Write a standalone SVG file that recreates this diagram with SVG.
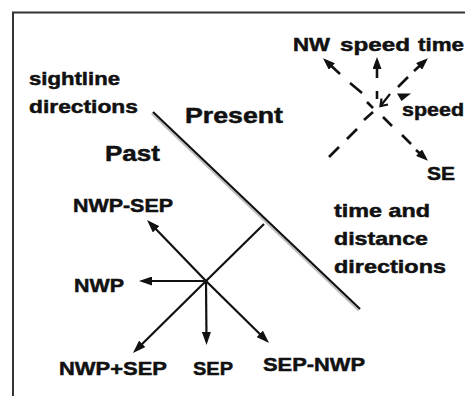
<svg xmlns="http://www.w3.org/2000/svg" width="465" height="396" viewBox="0 0 465 396">
<defs>
<style>
text{font-family:"Liberation Sans",Arial,sans-serif;font-weight:bold;fill:#111;font-size:19px;stroke:#111;stroke-width:0.5}
.big{font-size:22px}
.ln{stroke:#111;stroke-width:2.2;fill:none}
.ds{stroke:#111;stroke-width:2.6;fill:none}
</style>
<marker id="ah" viewBox="0 0 13 9" refX="9" refY="4.5" markerWidth="13" markerHeight="9" markerUnits="userSpaceOnUse" orient="auto"><path d="M0,0 L13,4.5 L0,9 Z" fill="#111"/></marker>
<marker id="ahs" viewBox="0 0 12 9" refX="8" refY="4.5" markerWidth="12" markerHeight="9" markerUnits="userSpaceOnUse" orient="auto"><path d="M0,0 L12,4.5 L0,9 Z" fill="#111"/></marker>
</defs>
<rect width="465" height="396" fill="#fff"/>
<rect x="13" y="12.5" width="520" height="420" fill="none" stroke="#333" stroke-width="2"/>

<g id="connectors">
<line x1="151.6" y1="113.6" x2="358.6" y2="310.6" stroke="#bbb" stroke-width="1.5"/>
<line class="ln" x1="153" y1="112" x2="360" y2="309" stroke-width="2.4"/>
<line class="ln" x1="264" y1="224" x2="206" y2="281"/>
<line class="ln" x1="206" y1="281" x2="135.8" y2="350.2" marker-end="url(#ah)"/>
<line class="ln" x1="206" y1="281" x2="149.8" y2="222.8" marker-end="url(#ah)"/>
<line class="ln" x1="206" y1="281" x2="266.2" y2="340.2" marker-end="url(#ah)"/>
<line class="ln" x1="204" y1="281" x2="143" y2="281" marker-end="url(#ah)"/>
<line class="ln" x1="206" y1="281" x2="206.5" y2="341" marker-end="url(#ah)"/>
<line class="ds" x1="340" y1="74" x2="326" y2="61" marker-end="url(#ahs)"/>
<line class="ds" x1="350" y1="83" x2="362" y2="93"/>
<line class="ds" x1="367" y1="102" x2="373" y2="108"/>
<line class="ds" x1="383" y1="117" x2="392" y2="126"/>
<line class="ds" x1="402" y1="135" x2="411" y2="144"/>
<line class="ds" x1="416" y1="150" x2="425" y2="158" marker-end="url(#ahs)"/>
<line class="ds" x1="329" y1="157" x2="339" y2="147"/>
<line class="ds" x1="347" y1="139" x2="357" y2="129"/>
<line class="ds" x1="364" y1="120" x2="373" y2="112"/>
<line class="ds" x1="398" y1="87" x2="408" y2="77"/>
<line class="ds" x1="414" y1="71" x2="425" y2="61" marker-end="url(#ahs)"/>
<line class="ds" x1="377" y1="78" x2="377" y2="61" marker-end="url(#ahs)"/>
<line class="ds" x1="377" y1="91" x2="377" y2="99"/>
<line class="ln" x1="390" y1="94" x2="380.5" y2="106"/>
<polyline class="ln" points="381.5,98.5 380.5,106 388,104.5"/>
<polygon points="397,93.5 411,93.5 401.5,101" fill="#111"/>
</g>

<g id="sightline"><text x="29" y="85" textLength="91" lengthAdjust="spacingAndGlyphs">sightline</text><text x="29" y="113" textLength="109" lengthAdjust="spacingAndGlyphs">directions</text></g>
<g id="present"><text class="big" x="185" y="123" textLength="98" lengthAdjust="spacingAndGlyphs">Present</text></g>
<g id="past"><text class="big" x="105" y="161" textLength="55" lengthAdjust="spacingAndGlyphs">Past</text></g>
<g id="nwp-sep"><text x="73" y="212" textLength="100" lengthAdjust="spacingAndGlyphs">NWP-SEP</text></g>
<g id="nwp"><text x="74" y="292" textLength="50" lengthAdjust="spacingAndGlyphs">NWP</text></g>
<g id="nwp-plus-sep"><text x="59" y="375" textLength="108" lengthAdjust="spacingAndGlyphs">NWP+SEP</text></g>
<g id="sep"><text x="193" y="375" textLength="40" lengthAdjust="spacingAndGlyphs">SEP</text></g>
<g id="sep-nwp"><text x="263" y="371" textLength="102" lengthAdjust="spacingAndGlyphs">SEP-NWP</text></g>
<g id="time-distance"><text x="334" y="217" textLength="96" lengthAdjust="spacingAndGlyphs">time and</text><text x="334" y="245" textLength="94" lengthAdjust="spacingAndGlyphs">distance</text><text x="334" y="273" textLength="112" lengthAdjust="spacingAndGlyphs">directions</text></g>
<g id="nw"><text x="293" y="51" textLength="37" lengthAdjust="spacingAndGlyphs">NW</text></g>
<g id="speed-up"><text x="340" y="51" textLength="70" lengthAdjust="spacingAndGlyphs">speed</text></g>
<g id="time"><text x="418" y="51" textLength="46" lengthAdjust="spacingAndGlyphs">time</text></g>
<g id="speed-right"><text x="402" y="116" textLength="62" lengthAdjust="spacingAndGlyphs">speed</text></g>
<g id="se"><text x="427" y="180" textLength="28" lengthAdjust="spacingAndGlyphs">SE</text></g>
</svg>
